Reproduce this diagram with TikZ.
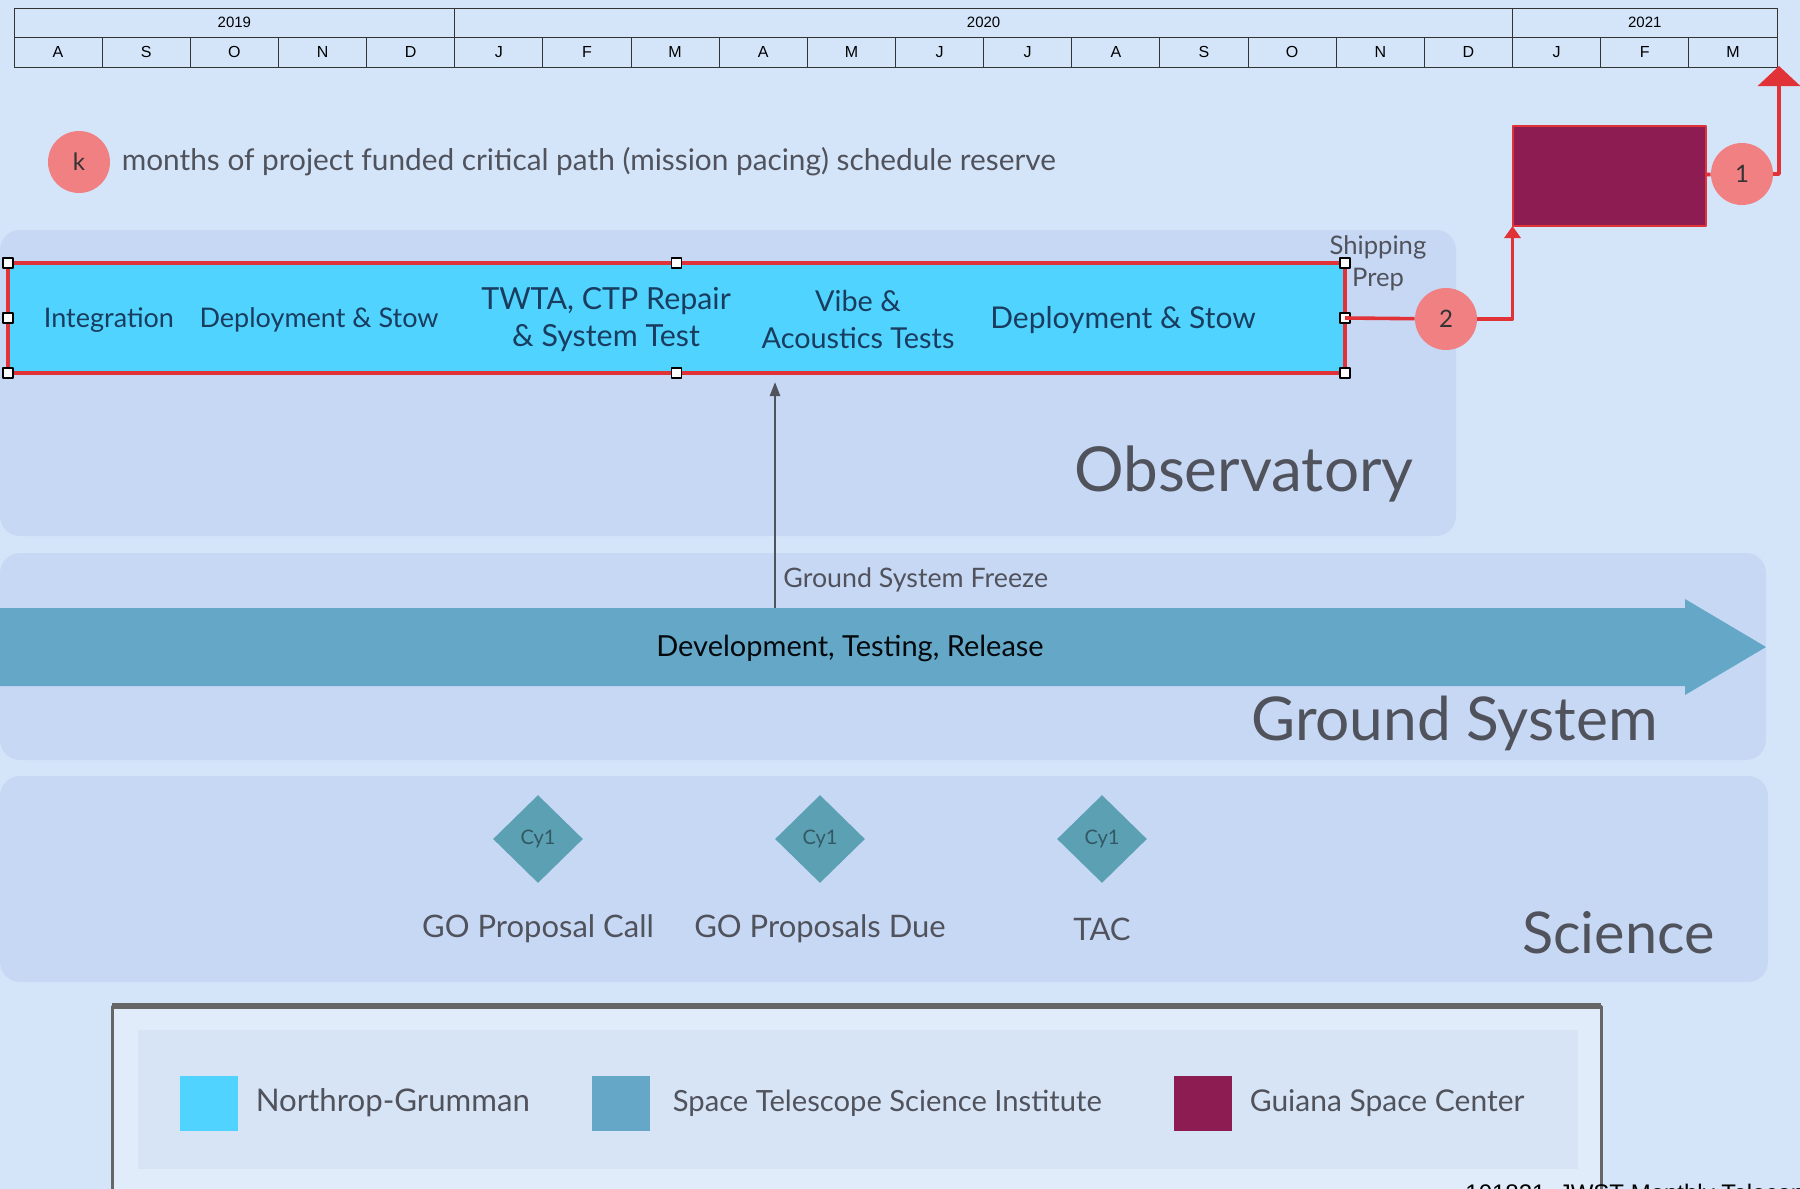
\documentclass[tikz,border=0pt]{standalone}
\usepackage{fontspec}
\setmainfont{Lato}
\newfontfamily\helv{Liberation Sans}
\usetikzlibrary{positioning,shapes.geometric,arrows.meta}

\definecolor{bgblue}{RGB}{212,229,250}
\definecolor{panelblue}{RGB}{199,216,245}
\definecolor{ngcyan}{RGB}{80,212,255}
\definecolor{stsciteal}{RGB}{100,167,198}
\definecolor{diamondteal}{RGB}{92,160,180}
\definecolor{gscpurple}{RGB}{140,28,82}
\definecolor{critred}{RGB}{225,50,55}
\definecolor{reservepink}{RGB}{240,128,130}
\definecolor{titlegray}{RGB}{80,82,92}
\definecolor{bartext}{RGB}{25,60,95}
\definecolor{legendbg}{RGB}{224,236,250}
\definecolor{legendin}{RGB}{214,228,245}

\tikzset{
  month/.style={draw=black!80, line width=0.5pt, minimum width=44.08pt, minimum height=15pt, inner sep=0pt, font=\helv\fontsize{8}{9}\selectfont},
  yearcell/.style={month, minimum height=14.5pt, font=\helv\fontsize{7.5}{9}\selectfont},
  reserve/.style={circle, fill=reservepink, minimum size=31pt, inner sep=0pt, text=black!80, font=\fontsize{12}{14}\selectfont},
  handle/.style={draw=black, fill=white, line width=0.6pt, minimum size=5pt, inner sep=0pt},
  bartxt/.style={align=center, text=bartext, inner sep=0pt, font=\fontsize{13.5}{18.5}\selectfont},
  redline/.style={draw=critred, line width=1.8pt},
  areatitle/.style={text=titlegray, inner sep=0pt, font=\fontsize{31}{36}\selectfont},
  milestone/.style={diamond, fill=diamondteal, minimum width=45pt, minimum height=44pt, inner sep=0pt, text=black!45!diamondteal, font=\fontsize{10}{12}\selectfont},
  scitxt/.style={text=titlegray, inner sep=0pt, font=\fontsize{15.5}{18}\selectfont},
  swatch/.style={minimum width=29pt, minimum height=27.5pt, inner sep=0pt},
  legtxt/.style={text=titlegray, inner sep=0pt, font=\fontsize{15}{18}\selectfont}
}

\begin{document}
\begin{tikzpicture}[x=0.5pt, y=-0.5pt, line join=round, >=Stealth]
% background
\fill[bgblue] (0,0) rectangle (1800,1189);
\useasboundingbox (0,0) rectangle (1800,1189);

% swim lanes
\fill[panelblue, rounded corners=10pt] (0,230) rectangle (1456,536);
\fill[panelblue, rounded corners=10pt] (0,553) rectangle (1766,760);
\fill[panelblue, rounded corners=10pt] (0,776) rectangle (1768,982);

% timeline header
\foreach \m [count=\i from 0] in {A,S,O,N,D,J,F,M,A,M,J,J,A,S,O,N,D,J,F,M}
  \node[month] (m\i) at ({58.08+88.15*\i},52) {\m};
\node[yearcell, minimum width=220.4pt] (y2019) at (234.4,22.5) {2019};
\node[yearcell, minimum width=528.9pt] (y2020) at (983.6,22.5) {2020};
\node[yearcell, minimum width=132.2pt] (y2021) at (1644.8,22.5) {2021};

% schedule reserve note
\node[reserve] (k) at (79,162) {k};
\node[right=5.5pt of k, text=titlegray, inner sep=0pt, font=\fontsize{14.9}{17}\selectfont] (knote) {months of project funded critical path (mission pacing) schedule reserve};

% observatory bar (Northrop-Grumman)
\node[draw=critred, line width=2.2pt, fill=ngcyan, outer sep=0pt, minimum width=668.5pt, minimum height=55pt] (obs) at (676.5,318) {};
\node[bartxt] (integ) at (109,320) {Integration};
\node[bartxt] (dep1) at (319,320) {Deployment \& Stow};
\node[bartxt, font=\fontsize{15.2}{18.5}\selectfont] (twta) at (606,320) {TWTA, CTP Repair\\\& System Test};
\node[bartxt, font=\fontsize{14.4}{18.5}\selectfont] (vibe) at (858,320) {Vibe \&\\Acoustics Tests};
\node[bartxt, font=\fontsize{15}{18}\selectfont] (dep2) at (1123,320) {Deployment \& Stow};
\foreach \a [count=\j] in {north west,north,north east,west,east,south west,south,south east}
  \node[handle] (h\j) at (obs.\a) {};
\node[align=center, text=titlegray, inner sep=0pt, font=\fontsize{12.8}{16}\selectfont] (ship) at (1378,263) {Shipping\\Prep};

% critical path to launch
\node[reserve] (r2) at (1446,319) {2};
\node[draw=critred, line width=1pt, fill=gscpurple, outer sep=0pt, minimum width=96.5pt, minimum height=50pt] (gsc) at (1609,176) {};
\node[reserve] (r1) at (1742,174) {1};
\coordinate (launch) at (1779,66);
\draw[redline] (obs.east) -- (r2);
\draw[redline, -{Triangle[length=6pt,width=8pt]}] (r2) -| (gsc.south west);
\draw[redline] (gsc) -- (r1);
\draw[redline, -{Triangle[length=10pt,width=21pt]}] (r1.east) -| (launch);

% ground system
\fill[stsciteal] (0,608) -- (1685,608) -- (1685,599) -- (1766,647) -- (1685,695) -- (1685,686) -- (0,686) -- cycle;
\node[text=black!85!bartext, inner sep=0pt, font=\fontsize{14.5}{17}\selectfont] (dev) at (850,648) {Development, Testing, Release};
\coordinate (frz) at (775,608);
\draw[titlegray, line width=1.2pt, -{Triangle[length=7pt,width=5pt]}, shorten >=4.5pt] (frz) -- (frz |- obs.south);
\node[anchor=west, text=titlegray, inner sep=0pt, font=\fontsize{13.4}{15}\selectfont] (frztxt) at (783,580) {Ground System Freeze};

% lane titles
\node[areatitle, anchor=base east] (tobs) at (1414,491) {Observatory};
\node[areatitle, anchor=base east, font=\fontsize{30.2}{36}\selectfont] (tgs) at (1658,740) {Ground System};
\node[areatitle, anchor=base east, font=\fontsize{28.8}{34}\selectfont] (tsci) at (1715,953) {Science};

% science milestones
\node[milestone] (cfp) at (538,839) {Cy1};
\node[milestone] (due) at (820,839) {Cy1};
\node[milestone] (tac) at (1102,839) {Cy1};
\node[scitxt] (cfptxt) at (538,929) {GO Proposal Call};
\node[scitxt] (duetxt) at (820,929) {GO Proposals Due};
\node[scitxt] (tactxt) at (1102,929) {TAC};

% legend
\filldraw[fill=legendbg, draw=black!60, line width=1.5pt] (112,1006) rectangle (1601,1250);
\draw[black!60, line width=3pt] (112,1006) -- (1601,1006);
\fill[legendin] (138,1030) rectangle (1578,1169);
\node[swatch, fill=ngcyan] (swng) at (209,1103) {};
\node[legtxt, right=8.5pt of swng, font=\fontsize{15.6}{18}\selectfont] (lgng) {Northrop-Grumman};
\node[swatch, fill=stsciteal] (swst) at (621,1103) {};
\node[legtxt, right=11pt of swst, font=\fontsize{14.6}{18}\selectfont] (lgst) {Space Telescope Science Institute};
\node[swatch, fill=gscpurple] (swgs) at (1203,1103) {};
\node[legtxt, right=8.5pt of swgs] (lggs) {Guiana Space Center};

% footer
\node[anchor=north west, inner sep=0pt, font=\helv\fontsize{12}{14}\selectfont] (foot) at (1465,1184) {101821\_JWST Monthly Telecon};
\end{tikzpicture}
\end{document}
